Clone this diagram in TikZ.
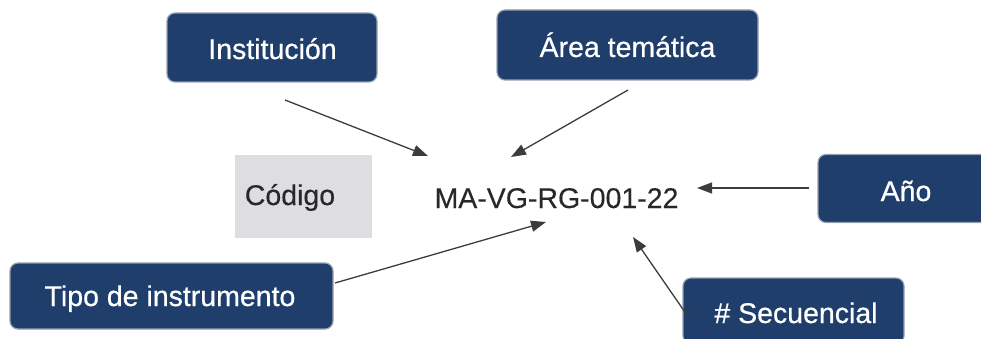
\documentclass[tikz,border=0pt]{standalone}
\usepackage{fontspec}
\setmainfont{Liberation Sans}
\newfontfamily\tagfont[FakeBold=0.6]{Liberation Sans}
\newfontfamily\codefont[FakeBold=0.25]{Liberation Sans}
\usetikzlibrary{arrows.meta}
\definecolor{navy}{RGB}{31,62,108}
\definecolor{boxedge}{RGB}{150,160,175}
\definecolor{codegray}{RGB}{221,221,226}
\definecolor{txtgray}{RGB}{40,40,40}
\definecolor{arrowgray}{RGB}{60,60,60}
\tikzset{
  tag/.style={draw=boxedge, line width=1.2pt, fill=navy, rounded corners=8pt, inner sep=0pt},
  tagtext/.style={text=white, font=\tagfont\fontsize{28.5}{30}\selectfont, inner sep=0pt, anchor=base},
  codetext/.style={text=txtgray, font=\codefont\fontsize{28.5}{30}\selectfont, inner sep=0pt, anchor=base},
  link/.style={draw=arrowgray, line width=1.3pt, -{Triangle[length=15pt,width=11pt]}}
}
\begin{document}
\begin{tikzpicture}[x=1pt,y=-1pt]
\useasboundingbox (0,0) rectangle (981,339);
\begin{scope}
\clip (0,0) rectangle (981,339);
% boxes
\node[tag, minimum width=210pt, minimum height=69pt] (instbox) at (272,47.5) {};
\node[tagtext] (inst) at (272.5,59) {Institución};
\node[tag, minimum width=261pt, minimum height=70pt] (areabox) at (627.5,45) {};
\node[tagtext] (area) at (627.5,57) {Área temática};
\node[tag, minimum width=176pt, minimum height=68pt] (aniobox) at (906,188.5) {};
\node[tagtext] (anio) at (906,201) {Año};
\node[tag, minimum width=221pt, minimum height=66pt] (secbox) at (793.5,311) {};
\node[tagtext] (sec) at (796,323) {\# Secuencial};
\node[tag, minimum width=323pt, minimum height=66pt] (tipobox) at (171.5,296) {};
\node[tagtext] (tipo) at (170,306) {Tipo de instrumento};
% code box
\node[fill=codegray, minimum width=137pt, minimum height=83pt, inner sep=0pt] (codbox) at (303.5,196.5) {};
\node[codetext] (cod) at (290,205) {Código};
\node[codetext] (code) at (556.5,208) {MA-VG-RG-001-22};
% connector ends
\coordinate (instS) at (285,100);
\coordinate (instE) at (428,156);
\coordinate (areaS) at (628,90);
\coordinate (areaE) at (511,157);
\coordinate (anioS) at (809,188);
\coordinate (anioE) at (697,188);
\coordinate (secS) at (689,318);
\coordinate (secE) at (633,237);
\coordinate (tipoS) at (335,283);
\coordinate (tipoE) at (546,222);
\draw[link] (instS) -- (instE);
\draw[link] (areaS) -- (areaE);
\draw[link] (anioS) -- (anioE);
\draw[link] (secS) -- (secE);
\draw[link] (tipoS) -- (tipoE);
\end{scope}
\end{tikzpicture}
\end{document}
